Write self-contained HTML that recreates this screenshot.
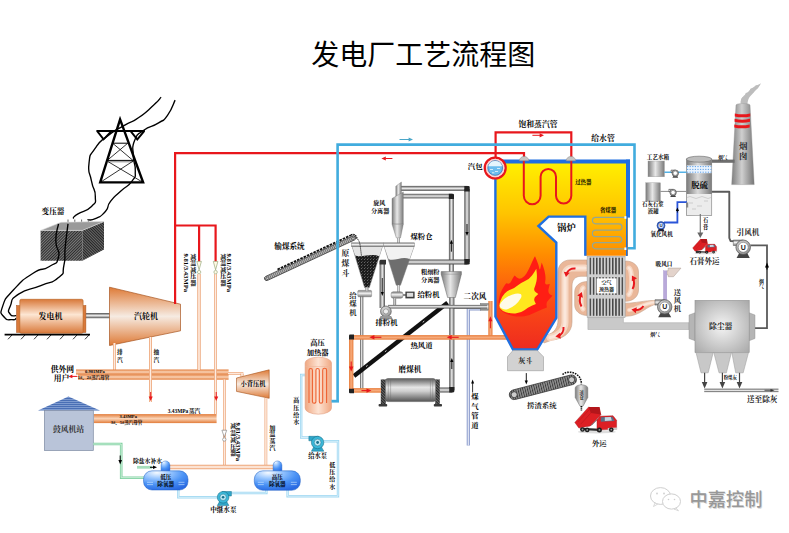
<!DOCTYPE html>
<html lang="zh"><head><meta charset="utf-8"><title>发电厂工艺流程图</title>
<style>html,body{margin:0;padding:0;background:#fff}svg{display:block}text{font-family:"Liberation Serif","Noto Serif CJK SC",serif;font-weight:bold}text.ttl{font-family:"Liberation Sans","Noto Sans CJK SC",sans-serif;font-weight:normal}text.wm{font-family:"Liberation Sans","Noto Sans CJK SC",sans-serif;font-weight:500}</style></head>
<body>
<svg width="789" height="533" viewBox="0 0 789 533">
<defs>
<linearGradient id="gOrH" x1="0" y1="0" x2="0" y2="1"><stop offset="0" stop-color="#e27c3a"/><stop offset="0.5" stop-color="#fad3b6"/><stop offset="1" stop-color="#e27c3a"/></linearGradient>
<linearGradient id="gOrV" x1="0" y1="0" x2="1" y2="0"><stop offset="0" stop-color="#e27c3a"/><stop offset="0.5" stop-color="#fad3b6"/><stop offset="1" stop-color="#e27c3a"/></linearGradient>
<linearGradient id="gOtH" x1="0" y1="0" x2="0" y2="1"><stop offset="0" stop-color="#e68d55"/><stop offset="0.3" stop-color="#fbdcc8"/><stop offset="0.5" stop-color="#fdece2"/><stop offset="0.7" stop-color="#fbdcc8"/><stop offset="1" stop-color="#e68d55"/></linearGradient>
<linearGradient id="gOtV" x1="0" y1="0" x2="1" y2="0"><stop offset="0" stop-color="#e68d55"/><stop offset="0.3" stop-color="#fbdcc8"/><stop offset="0.5" stop-color="#fdece2"/><stop offset="0.7" stop-color="#fbdcc8"/><stop offset="1" stop-color="#e68d55"/></linearGradient>
<linearGradient id="gHdH" x1="0" y1="0" x2="0" y2="1"><stop offset="0" stop-color="#e87c3a"/><stop offset="0.5" stop-color="#f6ab7c"/><stop offset="1" stop-color="#e87c3a"/></linearGradient>
<linearGradient id="gHdV" x1="0" y1="0" x2="1" y2="0"><stop offset="0" stop-color="#e87c3a"/><stop offset="0.5" stop-color="#f6ab7c"/><stop offset="1" stop-color="#e87c3a"/></linearGradient>
<linearGradient id="gGrH" x1="0" y1="0" x2="0" y2="1"><stop offset="0" stop-color="#4e4e4e"/><stop offset=".5" stop-color="#ececec"/><stop offset="1" stop-color="#4e4e4e"/></linearGradient>
<linearGradient id="gGrV" x1="0" y1="0" x2="1" y2="0"><stop offset="0" stop-color="#4e4e4e"/><stop offset=".5" stop-color="#ececec"/><stop offset="1" stop-color="#4e4e4e"/></linearGradient>
<linearGradient id="gTurb" x1="0" y1="0" x2="0" y2="1"><stop offset="0" stop-color="#de7a36"/><stop offset=".5" stop-color="#f6ebe2"/><stop offset="1" stop-color="#de7a36"/></linearGradient>
<linearGradient id="gGen" x1="0" y1="0" x2="0" y2="1"><stop offset="0" stop-color="#d9793a"/><stop offset=".45" stop-color="#fde6d3"/><stop offset="1" stop-color="#d9793a"/></linearGradient>
<linearGradient id="gBoil" x1="0" y1="160" x2="0" y2="350" gradientUnits="userSpaceOnUse"><stop offset="0" stop-color="#fff200"/><stop offset=".28" stop-color="#ffc400"/><stop offset=".5" stop-color="#ff8c00"/><stop offset=".75" stop-color="#fb4c14"/><stop offset="1" stop-color="#ee2a20"/></linearGradient>
<radialGradient id="gTank" cx=".3" cy=".1" r=".95"><stop offset="0" stop-color="#f4f9ff"/><stop offset=".3" stop-color="#9cc8ff"/><stop offset=".65" stop-color="#4a92f5"/><stop offset="1" stop-color="#2a6ae2"/></radialGradient>
<linearGradient id="gHeat" x1="0" y1="0" x2="1" y2="0"><stop offset="0" stop-color="#f0a882"/><stop offset=".5" stop-color="#fde3d3"/><stop offset="1" stop-color="#f0a882"/></linearGradient>
<linearGradient id="gCylV" x1="0" y1="0" x2="1" y2="0"><stop offset="0" stop-color="#7a7a7a"/><stop offset=".45" stop-color="#e8e8e8"/><stop offset="1" stop-color="#7a7a7a"/></linearGradient>
<linearGradient id="gCylH" x1="0" y1="0" x2="0" y2="1"><stop offset="0" stop-color="#777"/><stop offset=".45" stop-color="#f2f2f2"/><stop offset="1" stop-color="#777"/></linearGradient>
<linearGradient id="gDuct" x1="0" y1="0" x2="1" y2="0"><stop offset="0" stop-color="#f6b79a"/><stop offset=".5" stop-color="#fde9de"/><stop offset="1" stop-color="#f6b79a"/></linearGradient>
<radialGradient id="gDust" cx=".5" cy=".5" r=".7"><stop offset="0" stop-color="#f4f4f4"/><stop offset="1" stop-color="#a8a8a8"/></radialGradient>
<linearGradient id="gChim" x1="0" y1="0" x2="1" y2="0"><stop offset="0" stop-color="#7e7e7e"/><stop offset=".45" stop-color="#cfcfcf"/><stop offset="1" stop-color="#767676"/></linearGradient>
<radialGradient id="gFan" cx=".45" cy=".4" r=".6"><stop offset="0" stop-color="#fff"/><stop offset="1" stop-color="#8a8a8a"/></radialGradient>
<pattern id="pHatch" width="2" height="2" patternUnits="userSpaceOnUse" patternTransform="rotate(45)"><rect width="2" height="2" fill="#7c7c7c"/><rect width="1" height="2" fill="#2c2c2c"/></pattern>
<pattern id="pHatch2" width="2" height="2" patternUnits="userSpaceOnUse" patternTransform="rotate(-45)"><rect width="2" height="2" fill="#6a6a6a"/><rect width="1" height="2" fill="#242424"/></pattern>
<pattern id="pRoof" width="2" height="2" patternUnits="userSpaceOnUse"><rect width="2" height="2" fill="#7e9bd0"/><rect width="2" height="1" fill="#4a6fb5"/></pattern>
<pattern id="pBars" width="3.2" height="4" patternUnits="userSpaceOnUse"><rect width="3.2" height="4" fill="#d0d0d0"/><rect x=".8" width="1.5" height="4" fill="#444"/></pattern>
<pattern id="pBelt" width="2.4" height="4" patternUnits="userSpaceOnUse"><rect width="2.4" height="4" fill="#555"/><rect width="1.1" height="4" fill="#222"/></pattern>
<pattern id="pCoal" width="3" height="3" patternUnits="userSpaceOnUse"><rect width="3" height="3" fill="#1c1c1c"/><rect x="1" y="1" width="1" height="1" fill="#666"/><rect x="2.2" y="0" width=".8" height=".8" fill="#555"/></pattern>
<pattern id="pBeltL" width="1.9" height="4" patternUnits="userSpaceOnUse"><rect width="1.9" height="4" fill="#bdbdbd"/><rect width=".7" height="4" fill="#555"/></pattern>
<pattern id="pBeltM" width="2.3" height="4" patternUnits="userSpaceOnUse"><rect width="2.3" height="4" fill="#909090"/><rect width=".9" height="4" fill="#3a3a3a"/></pattern>
<linearGradient id="gTow" x1="0" y1="0" x2="1" y2="0"><stop offset="0" stop-color="#7a7a7a"/><stop offset=".45" stop-color="#dadada"/><stop offset="1" stop-color="#7a7a7a"/></linearGradient>
<linearGradient id="gMill" x1="0" y1="0" x2="0" y2="1"><stop offset="0" stop-color="#5c5c5c"/><stop offset=".38" stop-color="#e6e6e6"/><stop offset=".55" stop-color="#cfcfcf"/><stop offset="1" stop-color="#545454"/></linearGradient>
<filter id="fBlur" x="-20%" y="-20%" width="140%" height="140%"><feGaussianBlur stdDeviation=".7"/></filter>
</defs>
<rect width="789" height="533" fill="#fff"/>
<text class="ttl" x="311.3" y="64.8" font-size="28" fill="#000">发电厂工艺流程图</text>
<g fill="none" stroke="#000" stroke-linejoin="miter">
<path d="M120.1 119.4 L100.2 182.4 H143.1 Z" stroke-width="2.4"/>
<path d="M96.4 131 H144.9" stroke-width="2.2"/>
<path d="M97.4 131.4 L103.6 139.4 L111.2 131.4 M130.8 131.4 L137.3 139.4 L144 131.4" stroke-width="1.9"/>
<path d="M112.6 143.2H127.8 M107 160.4H133.2" stroke-width="1"/><path d="M107 161.8H133.2" stroke="#777" stroke-width="0.9"/>
<path d="M112.6 143.2L133.2 160.6 M127.8 143.2L107 160.6 M107 161L143 182.4 M133.2 161L100.2 182.4" stroke-width="0.8"/>
<path d="M161.1 97.1C158.6 99.8 161.1 98.3 153.5 105.2C145.9 112.1 148.1 111.1 138.4 117.8C128.7 124.5 134.5 119.5 124.4 125.4C114.3 131.3 117.7 128 108 135.6C98.3 143.2 101.6 138.9 95.3 148.2C89 157.5 90.3 152.4 89 163.4C87.7 174.4 89.4 170.1 91.5 181.1C93.6 192.1 95.3 187.8 95.3 196.3C95.3 204.8 97.4 200.6 91.5 206.5C85.6 212.4 83.8 210.1 77.6 214.1C71.4 218.1 74.5 217 73 218.5" stroke-width="1.35"/>
<path d="M175.1 100.1C172.6 105.2 173 107.7 167.5 115.3C162 122.9 166.6 117.8 158.6 122.9C150.6 128 151.4 124.6 143.4 130.5C135.4 136.4 138 132.2 134.6 140.6C131.2 149 133.1 145.7 133.3 155.8C133.5 165.9 135.7 162.6 135.3 171C134.9 179.4 136.9 174.3 132 181.1C127.1 187.9 127.8 184.5 120.6 191.3C113.4 198.1 115.6 194.7 110.5 201.4C105.4 208.1 110.5 205.8 105.4 211.5C100.3 217.2 101.3 215.9 95.3 218.6C89.3 221.3 90.1 219.3 87.5 219.6" stroke-width="1.35"/>
</g>
<text x="41.6" y="213.5" font-size="7.6" fill="#000">变压器</text>
<path d="M68 219.5v2.5M74.8 219.5v2.5M81.6 219.5v2.5M88.4 219.5v2.5" stroke="#666" stroke-width="1"/>
<path d="M40.6 230.4H82.4V260.8H40.6Z" fill="url(#pHatch)"/>
<path d="M82.4 230.4L104 221.5V249.4L82.4 260.8Z" fill="url(#pHatch2)"/>
<path d="M40.6 230.4L61 222.3L104 221.5L82.4 230.4Z" fill="#9a9a9a" stroke="#ddd" stroke-width="0.6"/>
<g fill="none" stroke="#000" stroke-width="1.35">
<path d="M58.5 223.9C57.6 229.5 55.8 229.7 55.8 240.8C55.8 251.9 60.8 248.5 58.5 257.1C56.2 265.7 57.6 261.2 49 266.7C40.4 272.2 44.5 265.8 32.7 273.5C20.9 281.2 23.6 278.9 13.6 289.8C3.6 300.7 5.9 297 2.7 306.1C-0.5 315.2 0.9 312.5 4.1 317C7.3 321.5 8.1 319.2 12.2 319.7C16.3 320.2 14.9 318.8 16.3 318.4"/>
<path d="M68 223.9C67.1 231.4 66.7 232.5 65.3 246.3C63.9 260.1 66.2 254.9 63.9 265.3C61.6 275.7 66.2 270.8 58.5 277.6C50.8 284.4 54 280.3 40.8 285.7C27.6 291.1 29.2 287.1 19 293.9C8.8 300.7 13.2 299.3 10.3 306.1C7.4 312.9 8.3 311.1 10.3 314.3C12.3 317.5 14.3 315.2 16.3 315.6"/>
</g>
<rect x="85.5" y="313" width="24.5" height="5.2" fill="url(#gGrH)"/>
<rect x="16.5" y="305.5" width="4" height="27" fill="#d9793a" stroke="#a8551f" stroke-width=".5"/>
<rect x="82.5" y="305.5" width="3.4" height="27" fill="#d9793a" stroke="#a8551f" stroke-width=".5"/>
<rect x="19.8" y="299.3" width="63.3" height="34" rx="1.5" fill="url(#gGen)" stroke="#b5601f" stroke-width=".6"/>
<path d="M4.6 334.6H90" stroke="#000" stroke-width="1.6"/>
<path d="M12 335L8 339.3M25 335L21 339.3M38 335L34 339.3M51 335L47 339.3M64 335L60 339.3M77 335L73 339.3M89 335L85 339.3" stroke="#000" stroke-width=".8"/>
<text x="38.5" y="319" font-size="8" fill="#000">发电机</text>
<path d="M109.5 287.2L180.5 304.2V330.8L109.5 345.5Z" fill="url(#gTurb)" stroke="#a8551f" stroke-width=".7"/>
<text x="134" y="319" font-size="8" fill="#000">汽轮机</text>
<path d="M524 158 L524 153.2 L175.1 153.2 L175.1 304" fill="none" stroke="#e8171c" stroke-width="2.2" stroke-linejoin="miter"/>
<path d="M175 225.5 L215.6 225.5 L215.6 261.5" fill="none" stroke="#e8171c" stroke-width="2.2" />
<path d="M199.1 225.5 L199.1 261.5" fill="none" stroke="#e8171c" stroke-width="2.2" />
<g transform="translate(381.4,158.5) rotate(180)"><path d="M-11 0H-3.9000000000000004" stroke="#e8171c" stroke-width="1" fill="none"/><path d="M0 0L-4.4 -2.1L-4.4 2.1Z" fill="#e8171c"/></g>
<path d="M495.6 160 L495.6 132.4 L571.3 132.4 L571.3 158" fill="none" stroke="#e8171c" stroke-width="2.2" />
<g transform="translate(544,135.3) rotate(0)"><path d="M-11.6 0H-3.9000000000000004" stroke="#e8171c" stroke-width="1" fill="none"/><path d="M0 0L-4.4 -2.1L-4.4 2.1Z" fill="#e8171c"/></g>
<g transform="translate(413,139.5) rotate(0)"><path d="M-13.5 0H-3.9000000000000004" stroke="#4aa6c8" stroke-width="1" fill="none"/><path d="M0 0L-4.4 -2.1L-4.4 2.1Z" fill="#4aa6c8"/></g>
<rect x="113" y="343" width="2.9" height="27" fill="url(#gOtV)"/>
<rect x="149.1" y="337" width="2.8" height="65" fill="url(#gOtV)"/>
<rect x="76" y="369.5" width="152.6" height="5" fill="url(#gOrH)"/>
<rect x="78" y="374.3" width="150.6" height="5.4" fill="url(#gOrH)"/>
<rect x="228" y="372.1" width="15.4" height="2.6" fill="url(#gOtH)"/>
<rect x="240.6" y="373.4" width="2.8" height="4.6" fill="url(#gOtV)"/>
<rect x="197.4" y="274" width="3.2" height="96" fill="url(#gOtV)"/>
<rect x="214.1" y="274" width="2.8" height="140" fill="url(#gOtV)"/>
<rect x="149.1" y="337" width="2.8" height="65" fill="url(#gOtV)"/>
<rect x="93.8" y="414.1" width="122.8" height="9" fill="url(#gOrH)"/>
<path d="M236.5 378L269.2 369.8V398.3L236.5 391.4Z" fill="url(#gTurb)" stroke="#a8551f" stroke-width=".6"/>
<text x="240.4" y="385.9" font-size="6.3" fill="#000">小背压机</text>
<rect x="223.1" y="379.5" width="2.6" height="89" fill="url(#gOtV)"/>
<rect x="264.6" y="398" width="2.6" height="70.5" fill="url(#gOtV)"/>
<rect x="169" y="464.8" width="104.5" height="4.4" fill="url(#gOtH)"/>
<path d="M196.8 261.4H201.4L199.1 269.8Z" fill="#fffbe6" stroke="#8a9a6a" stroke-width=".6"/><circle cx="199.1" cy="272.1" r="1.7" fill="#fffbe6" stroke="#8a9a6a" stroke-width=".6"/>
<path d="M213.3 261.4H217.9L215.6 269.8Z" fill="#fffbe6" stroke="#8a9a6a" stroke-width=".6"/><circle cx="215.6" cy="272.1" r="1.7" fill="#fffbe6" stroke="#8a9a6a" stroke-width=".6"/>
<path d="M221.9 430.2H226.7L224.3 437.2Z" fill="#fff" stroke="#777" stroke-width=".6"/><circle cx="224.3" cy="439.5" r="1.7" fill="#fff" stroke="#777" stroke-width=".6"/>
<g transform="translate(150.7,401) rotate(90)"><path d="M-9 0H-4.0" stroke="#e8171c" stroke-width="1" fill="none"/><path d="M0 0L-4.5 -2L-4.5 2Z" fill="#e8171c"/></g>
<g transform="translate(216.2,401) rotate(90)"><path d="M-9 0H-4.0" stroke="#e8171c" stroke-width="1" fill="none"/><path d="M0 0L-4.5 -2L-4.5 2Z" fill="#e8171c"/></g>
<g transform="translate(68.4,376.4) rotate(180)"><path d="M-9 0H-3.5" stroke="#e8171c" stroke-width="1" fill="none"/><path d="M0 0L-4 -1.8L-4 1.8Z" fill="#e8171c"/></g>
<text font-size="5.7" fill="#000"><tspan x="117" y="354.4">排</tspan><tspan x="117" y="361.5">汽</tspan></text>
<text font-size="5.7" fill="#000"><tspan x="153.6" y="354.4">抽</tspan><tspan x="153.6" y="361.5">汽</tspan></text>
<text x="50.7" y="372" font-size="7.8" fill="#000">供外网</text>
<text x="53.8" y="381.2" font-size="7.8" fill="#000">用户</text>
<text x="85" y="373" font-size="4.6">0.981MPa</text>
<text x="77.8" y="379.3" font-size="4.5" fill="#000">1#、2#蒸汽母管</text>
<text x="119.5" y="417.6" font-size="4.6">3.43MPa</text>
<text x="110.8" y="423.5" font-size="4.5" fill="#000">3#、5#蒸汽母管</text>
<text x="167.8" y="412.6" font-size="5.4">3.43MPa</text>
<text x="188.8" y="412.8" font-size="5.8" fill="#000">蒸汽</text>
<text font-size="6" fill="#000"><tspan x="190.3" y="258.6">减</tspan><tspan x="190.3" y="265.2">温</tspan><tspan x="190.3" y="271.8">减</tspan><tspan x="190.3" y="278.4">压</tspan><tspan x="190.3" y="285">器</tspan></text>
<text font-size="6" fill="#000"><tspan x="220.2" y="258.6">减</tspan><tspan x="220.2" y="265.2">温</tspan><tspan x="220.2" y="271.8">减</tspan><tspan x="220.2" y="278.4">压</tspan><tspan x="220.2" y="285">器</tspan></text>
<text transform="translate(184,253.5) rotate(90)" font-size="6.6">9.81/3.43MPa</text>
<text transform="translate(227,253.5) rotate(90)" font-size="6.6">9.81/3.43MPa</text>
<text font-size="5.8" fill="#000"><tspan x="230.3" y="428.1">减</tspan><tspan x="230.3" y="434.9">温</tspan><tspan x="230.3" y="441.7">减</tspan><tspan x="230.3" y="448.5">压</tspan><tspan x="230.3" y="455.3">器</tspan></text>
<text transform="translate(236,422.5) rotate(90)" font-size="6.6">9.81/3.43MPa</text>
<text font-size="6.2" fill="#000"><tspan x="269.2" y="429.5">加</tspan><tspan x="269.2" y="436.3">温</tspan><tspan x="269.2" y="443.1">蒸</tspan><tspan x="269.2" y="449.9">汽</tspan></text>
<path d="M68.4 396.5L38 410.4H100Z" fill="url(#pRoof)"/>
<rect x="44.4" y="410.4" width="48.9" height="40.1" fill="#b9c4d9" stroke="#7d8aa3" stroke-width=".7"/>
<text x="52.9" y="431.5" font-size="7.8" fill="#333">鼓风机站</text>
<path d="M93.3 444 L121.2 444 L121.2 477.7 L144.5 477.7" fill="none" stroke="#7fd0a0" stroke-width="2.6" />
<path d="M93.3 444 L121.2 444 L121.2 477.7 L144.5 477.7" fill="none" stroke="#d5f3e0" stroke-width="0.9" />
<g transform="translate(120.2,464.5) rotate(90)"><path d="M-9 0H-4.0" stroke="#000" stroke-width="1" fill="none"/><path d="M0 0L-4.5 -1.8L-4.5 1.8Z" fill="#000"/></g>
<path d="M137 467.3 L152 467.3" fill="none" stroke="#a6dfbd" stroke-width="2.8" />
<g transform="translate(157,467.3) rotate(0)"><path d="M-7 0H-3.5" stroke="#000" stroke-width="1" fill="none"/><path d="M0 0L-4 -1.8L-4 1.8Z" fill="#000"/></g>
<text x="133" y="462.5" font-size="5.8" fill="#000">除盐水补水</text>
<path d="M178.3 490 L178.3 497.3 L217 497.3" fill="none" stroke="#9fd8f2" stroke-width="2.4" />
<path d="M178.3 490 L178.3 497.3 L217 497.3" fill="none" stroke="#e4f5fc" stroke-width="0.8" />
<path d="M229 493 L266.4 493 L266.4 489" fill="none" stroke="#9fd8f2" stroke-width="2.4" />
<path d="M229 493 L266.4 493 L266.4 489" fill="none" stroke="#e4f5fc" stroke-width="0.8" />
<path d="M287.6 490 L287.6 496.2 L338 496.2 L338 441.3 L324 441.3" fill="none" stroke="#9fd8f2" stroke-width="2.4" />
<path d="M287.6 490 L287.6 496.2 L338 496.2 L338 441.3 L324 441.3" fill="none" stroke="#e4f5fc" stroke-width="0.8" />
<path d="M311 437.5 L301.2 437.5 L301.2 375 L306 375" fill="none" stroke="#9fd8f2" stroke-width="2.4" />
<path d="M311 437.5 L301.2 437.5 L301.2 375 L306 375" fill="none" stroke="#e4f5fc" stroke-width="0.8" />
<path d="M161.1 471.8V465.3a4.4 4.4 0 0 1 8.8 0V471.8Z" fill="url(#gTank)" stroke="#1f5fc0" stroke-width=".4"/>
<rect x="143.5" y="470.8" width="44.5" height="19.2" rx="8.5" fill="url(#gTank)" stroke="#1f5fc0" stroke-width=".5"/>
<path d="M147 482.3h6M147 484.6h6" stroke="#cfe6ff" stroke-width=".6"/>
<path d="M178.5 482.3h6M178.5 484.6h6" stroke="#cfe6ff" stroke-width=".6"/>
<text x="160.2" y="478.9" font-size="5.6" fill="#000">低压</text>
<text x="157.3" y="486.4" font-size="5.6" fill="#000">除氧器</text>
<path d="M273.1 471.8V465.3a4.4 4.4 0 0 1 8.8 0V471.8Z" fill="url(#gTank)" stroke="#1f5fc0" stroke-width=".4"/>
<rect x="254.3" y="470.8" width="46" height="19.5" rx="8.5" fill="url(#gTank)" stroke="#1f5fc0" stroke-width=".5"/>
<path d="M257.8 482.3h6M257.8 484.6h6" stroke="#cfe6ff" stroke-width=".6"/>
<path d="M290.8 482.3h6M290.8 484.6h6" stroke="#cfe6ff" stroke-width=".6"/>
<text x="271.7" y="478.9" font-size="5.6" fill="#000">高压</text>
<text x="268.9" y="486.4" font-size="5.6" fill="#000">除氧器</text>
<g transform="translate(223.1,497.3) scale(1,1)"><path d="M-1 -5.8H8.3V-1.2999999999999998H2Z" fill="#2fa6c9" stroke="#17708c" stroke-width=".5"/><path d="M-5.8 8.3L-3.3 3.8H3.3L5.8 8.3Z" fill="#2fa6c9" stroke="#17708c" stroke-width=".5"/><circle r="5.8" fill="#3bb7d8" stroke="#17708c" stroke-width=".6"/><circle r="3.2" fill="#bfe9f5" stroke="#17708c" stroke-width=".5"/><circle r="1.3" fill="#17708c"/></g>
<g transform="translate(317.6,442.5) scale(-1,1)"><path d="M-1 -6.2H8.7V-1.7000000000000002H2Z" fill="#2fa6c9" stroke="#17708c" stroke-width=".5"/><path d="M-6.2 8.7L-3.7 4.2H3.7L6.2 8.7Z" fill="#2fa6c9" stroke="#17708c" stroke-width=".5"/><circle r="6.2" fill="#3bb7d8" stroke="#17708c" stroke-width=".6"/><circle r="3.4" fill="#bfe9f5" stroke="#17708c" stroke-width=".5"/><circle r="1.4" fill="#17708c"/></g>
<text x="210.2" y="512" font-size="6.6" fill="#000">中继水泵</text>
<text x="308.2" y="457.7" font-size="6.3" fill="#000">给水泵</text>
<text font-size="6" fill="#000"><tspan x="293.3" y="402.3">高</tspan><tspan x="293.3" y="409.6">压</tspan><tspan x="293.3" y="416.9">给</tspan><tspan x="293.3" y="424.2">水</tspan></text>
<text font-size="6" fill="#000"><tspan x="329.3" y="466.8">低</tspan><tspan x="329.3" y="474.1">压</tspan><tspan x="329.3" y="481.4">给</tspan><tspan x="329.3" y="488.7">水</tspan></text>
<path d="M305.1 363 a13.2 5.8 0 0 1 26.4 0 V408 a13.2 6.2 0 0 1 -26.4 0Z" fill="url(#gHeat)" stroke="#e3a184" stroke-width=".6"/>
<path d="M305.4 366.5H331.2" stroke="#edb69c" stroke-width=".6"/>
<path d="M309 403V370.2a1.7 1.7 0 0 1 3.4 0V401.5a1.75 1.75 0 0 0 3.5 0V370.2a1.7 1.7 0 0 1 3.4 0V401.5a1.7 1.7 0 0 0 3.4 0V370.2a1.95 1.95 0 0 1 3.9 0V403" fill="none" stroke="#ee6232" stroke-width="1.1"/>
<path d="M331.5 401.2 L339 401.2" fill="none" stroke="#41acde" stroke-width="2.8" />
<text x="310.3" y="344.8" font-size="7.3" fill="#000">高压</text>
<text x="306.7" y="355.4" font-size="7.3" fill="#000">加热器</text>
<g transform="translate(266.6,278.4) rotate(-24.91)"><rect x="-2.2" y="-2.2" width="100.3" height="4.4" rx="2.2" fill="url(#pBeltL)" stroke="#222" stroke-width=".6"/></g>
<path d="M277.5 269.5L351 235.2" stroke="#111" stroke-width="1.8" stroke-dasharray="2.6 1"/><path d="M351 235C354 233.5 356 235 357 238.5" stroke="#111" stroke-width="1.5" stroke-dasharray="1.5 .8" fill="none"/><circle cx="267.2" cy="278.2" r="1.1" fill="#fff" stroke="#111" stroke-width=".5"/><circle cx="353" cy="238.3" r="1.1" fill="#fff" stroke="#111" stroke-width=".5"/>
<text x="274.3" y="249.4" font-size="7.6" fill="#000">输煤系统</text>
<path d="M337.6 400.7 L337.6 144.6 L634.5 144.6 L634.5 248.2 L626 248.2" fill="none" stroke="#41acde" stroke-width="2.6" />
<path d="M468.3 445.5 L468.3 308.8 L481 308.8" fill="none" stroke="#8c9ccc" stroke-width="3.2" />
<path d="M468.3 445.5 L468.3 308.8 L481 308.8" fill="none" stroke="#e4e9f7" stroke-width="1.2" />
<rect x="488.3" y="301" width="4.2" height="36" fill="url(#gHdV)"/>
<rect x="453.8" y="305" width="27.2" height="3.6" fill="url(#gGrH)"/>
<rect x="480.3" y="303.6" width="8.2" height="6.6" fill="url(#gCylH)" stroke="#666" stroke-width=".4"/>
<g transform="translate(490.4,316.3) rotate(-90)"><path d="M-12 0H-4.5" stroke="#e8171c" stroke-width="1" fill="none"/><path d="M0 0L-5 -2L-5 2Z" fill="#e8171c"/></g>
<text x="463.6" y="299.4" font-size="7.6" fill="#000">二次风</text>
<rect x="360" y="296" width="3.3" height="93" fill="url(#gGrV)"/>
<path d="M354 376L447.6 302.8" stroke="#111" stroke-width="4.3"/>
<path d="M366 366.6L440 308.8" stroke="#fff" stroke-width=".8" stroke-dasharray="2 22"/>
<rect x="449.2" y="297" width="5.2" height="93" fill="url(#gGrV)"/>
<rect x="448.9" y="196" width="5" height="76.5" fill="url(#gGrV)"/>
<rect x="439.6" y="387.5" width="12.4" height="5" fill="url(#gGrH)"/>
<path d="M449.2 392.5H453a1.4 1.4 0 0 0 1.4-1.4V387H449.2Z" fill="#222"/>
<g transform="translate(451.8,358) rotate(-90)"><path d="M-11 0H-3.5" stroke="#000" stroke-width="0.9" fill="none"/><path d="M0 0L-4 -1.6L-4 1.6Z" fill="#000"/></g>
<g transform="translate(451.4,239.7) rotate(-90)"><path d="M-12 0H-3.5" stroke="#000" stroke-width="0.9" fill="none"/><path d="M0 0L-4 -1.6L-4 1.6Z" fill="#000"/></g>
<rect x="403" y="193.8" width="49" height="4.6" fill="url(#gGrH)"/>
<path d="M448.8 193.8H452.8a1.2 1.2 0 0 1 1.2 1.2V199H448.8Z" fill="#222"/>
<rect x="401" y="185.9" width="66.5" height="5" fill="url(#gGrH)"/>
<rect x="464.3" y="189" width="5.4" height="73" fill="url(#gGrV)"/>
<rect x="407" y="259.5" width="60.5" height="5" fill="url(#gGrH)"/>
<path d="M464.3 185.9H468.5a1.2 1.2 0 0 1 1.2 1.2V191.6H464.3Z" fill="#222"/><path d="M464.3 264.5H468.5a1.2 1.2 0 0 0 1.2-1.2V259H464.3Z" fill="#222"/>
<g transform="translate(467,236) rotate(90)"><path d="M-12 0H-3.5" stroke="#000" stroke-width="0.9" fill="none"/><path d="M0 0L-4 -1.6L-4 1.6Z" fill="#000"/></g>
<path d="M395.8 186.2L401.4 182V224H395.8Z" fill="url(#gCylV)" stroke="#777" stroke-width=".4"/>
<path d="M392 198.5L403.3 191.9V224.2H392Z" fill="url(#gCylV)" stroke="#777" stroke-width=".4"/>
<path d="M392 224.2H403.3L400.5 237.9H396.3Z" fill="url(#gCylV)" stroke="#777" stroke-width=".4"/>
<rect x="397.2" y="237.9" width="2.6" height="5.6" fill="url(#gCylV)"/>
<text x="373.2" y="204.9" font-size="6.1" fill="#000">旋风</text>
<text x="371" y="212.5" font-size="6.1" fill="#000">分离器</text>
<path d="M352.2 246.5H382.4L369.3 287.6H364.6Z" fill="url(#pCoal)" stroke="#777" stroke-width=".5"/>
<path d="M352.2 246.5H382.4L379.4 256.5C372 252.5 362 258 355 255.5Z" fill="#e4e4e4"/>
<rect x="351.3" y="242.8" width="32.1" height="3.9" fill="url(#gCylH)" stroke="#777" stroke-width=".4"/>
<path d="M357.5 239C359.5 241 360 244 360.5 248L361.5 256" stroke="#222" stroke-width="1" stroke-dasharray="1.2 .8" fill="none"/>
<path d="M384.2 246.5H414L400.5 285.2H396.3Z" fill="#6e6e6e" stroke="#777" stroke-width=".5"/>
<path d="M384.2 246.5H414L409.6 259C402 255.5 394 262 388.5 259Z" fill="#f2f2f2"/>
<rect x="383.4" y="242.8" width="31.2" height="3.9" fill="url(#gCylH)" stroke="#777" stroke-width=".4"/>
<text x="410.4" y="239.3" font-size="7.4" fill="#000">煤粉仓</text>
<text font-size="7.8" fill="#222"><tspan x="341.4" y="255.5">原</tspan><tspan x="341.4" y="265.5">煤</tspan><tspan x="341.4" y="275.5">斗</tspan></text>
<text font-size="7.4" fill="#222"><tspan x="349.3" y="297.5">给</tspan><tspan x="349.3" y="306.1">煤</tspan><tspan x="349.3" y="314.7">机</tspan></text>
<rect x="357.8" y="290.4" width="13.8" height="6.4" rx="1" fill="url(#gCylH)" stroke="#666" stroke-width=".4"/>
<rect x="365.4" y="287.4" width="3" height="3.2" fill="url(#gCylV)"/>
<rect x="379.6" y="261" width="5.4" height="47" fill="url(#gGrV)"/>
<path d="M379.6 264.6V261a1.2 1.2 0 0 1 1.2-1.2H386V264.6Z" fill="#333"/>
<g transform="translate(382.3,296) rotate(90)"><path d="M-18 0H-3.5" stroke="#000" stroke-width="0.8" fill="none"/><path d="M0 0L-4 -1.5L-4 1.5Z" fill="#000"/></g>
<rect x="397.3" y="285" width="2.4" height="7" fill="url(#gCylV)"/>
<rect x="391.1" y="291.8" width="11.8" height="6.4" rx="2" fill="url(#gCylH)" stroke="#666" stroke-width=".4"/>
<rect x="402.9" y="294" width="3" height="2" fill="#888"/>
<rect x="405.4" y="291.6" width="9.2" height="6.8" fill="#3a3a3a"/><rect x="406.8" y="292.8" width="6.4" height="4" fill="#ddd"/>
<text x="417.4" y="296.9" font-size="7.4" fill="#000">给粉机</text>
<rect x="393.5" y="298.2" width="2.6" height="7.8" fill="url(#gGrV)"/>
<rect x="388" y="304.9" width="99" height="3.6" fill="url(#gGrH)"/>
<circle cx="385.9" cy="311.4" r="5.4" fill="url(#gFan)" stroke="#555" stroke-width=".6"/><circle cx="385.9" cy="311.4" r="2.6" fill="#eee" stroke="#555" stroke-width=".5"/><path d="M381 316L379.5 319H392.3L390.8 316" fill="#999" stroke="#555" stroke-width=".4"/>
<text x="375.4" y="324.8" font-size="7.4" fill="#000">排粉机</text>
<path d="M441.2 271.6H461.4V274.2L455.4 297.5H447.6L441.2 274.2Z" fill="url(#gCylV)" stroke="#666" stroke-width=".5"/>
<path d="M441.2 274.2H461.4" stroke="#888" stroke-width=".5"/>
<text x="421" y="274" font-size="6.2" fill="#000">粗细粉</text>
<text x="421" y="281.8" font-size="6.2" fill="#000">分离器</text>
<rect x="380.8" y="379.4" width="5" height="24.8" fill="url(#pHatch2)"/><rect x="435.2" y="379.4" width="4.6" height="24.8" fill="url(#pHatch2)"/>
<rect x="385.4" y="378.5" width="50.2" height="23.1" rx="2.5" fill="url(#gMill)" stroke="#555" stroke-width=".5"/>
<path d="M388.3 379V401M390.6 379V401M430.4 379V401M432.7 379V401" stroke="#666" stroke-width=".5" opacity=".7"/>
<rect x="378.6" y="404" width="8.6" height="2.6" rx=".8" fill="#3a3a3a"/><rect x="433.8" y="404" width="8.2" height="2.6" rx=".8" fill="#3a3a3a"/>
<rect x="351" y="335.1" width="158" height="4.6" fill="url(#gHdH)"/>
<rect x="349" y="339" width="4.4" height="52" fill="url(#gHdV)"/>
<rect x="352" y="388.1" width="29" height="4.6" fill="url(#gHdH)"/>
<path d="M349 339.5V335.5a1 1 0 0 1 1-1H354V339.5Z" fill="#222"/><path d="M349 388.8V392.3a1 1 0 0 0 1 1H354V388.8Z" fill="#222"/>
<g transform="translate(369.4,337.3) rotate(180)"><path d="M-12 0H-4.5" stroke="#e8171c" stroke-width="1.1" fill="none"/><path d="M0 0L-5 -2.2L-5 2.2Z" fill="#e8171c"/></g>
<g transform="translate(446.7,337.3) rotate(180)"><path d="M-12 0H-4.5" stroke="#e8171c" stroke-width="1.1" fill="none"/><path d="M0 0L-5 -2.2L-5 2.2Z" fill="#e8171c"/></g>
<g transform="translate(351.2,371.5) rotate(90)"><path d="M-10 0H-4.5" stroke="#e8171c" stroke-width="1.1" fill="none"/><path d="M0 0L-5 -2.2L-5 2.2Z" fill="#e8171c"/></g>
<g transform="translate(371.5,390.6) rotate(0)"><path d="M-10 0H-4.5" stroke="#e8171c" stroke-width="1.1" fill="none"/><path d="M0 0L-5 -2.2L-5 2.2Z" fill="#e8171c"/></g>
<text x="398.6" y="372.4" font-size="7.6" fill="#000">磨煤机</text>
<text x="410.4" y="348.3" font-size="7.4" fill="#000">热风道</text>
<g transform="translate(472.6,379.5) rotate(-90)"><path d="M-13 0H-3.5" stroke="#000" stroke-width="0.8" fill="none"/><path d="M0 0L-4 -1.5L-4 1.5Z" fill="#000"/></g>
<text font-size="7.4" fill="#000"><tspan x="471.3" y="399">煤</tspan><tspan x="471.3" y="408.6">气</tspan><tspan x="471.3" y="418.2">管</tspan><tspan x="471.3" y="427.8">道</tspan></text>
<path d="M587 260H570C563 260 558 265 558 272V320C558 328 554 333 547 335L541 338.8L544 343L552 340C563 339 572 333 572 322V286C572 280 575 276.3 581 276.3H587Z" fill="#eab799" stroke="#c49f88" stroke-width=".6"/>
<path d="M585 268H572C568 268 565 271 565 275V322C565 330 559 336 550 337.5" fill="none" stroke="#f6d6c2" stroke-width="7" stroke-linecap="round"/><path d="M585 268H572C568 268 565 271 565 275V322C565 330 559 336 550 337.5" fill="none" stroke="#fbe7db" stroke-width="3.1" stroke-linecap="round"/>
<path d="M587 281.6C580 281.6 574.7 286 574.7 292V305C574.7 311 580 315.4 587 315.4Z" fill="#eab799" stroke="#c49f88" stroke-width=".6"/>
<path d="M583 288C580.5 290 580.5 307 583 309" fill="none" stroke="#f6d6c2" stroke-width="5" stroke-linecap="round"/><path d="M583 288C580.5 290 580.5 307 583 309" fill="none" stroke="#fbe7db" stroke-width="2.2" stroke-linecap="round"/>
<path d="M625.5 261C633 261 638.5 265.5 638.5 272V290C638.5 296.5 633 301.3 625.5 301.3Z" fill="#eab799" stroke="#c49f88" stroke-width=".6"/>
<path d="M629 268C632.5 270 632.5 292 629 294.5" fill="none" stroke="#f6d6c2" stroke-width="5" stroke-linecap="round"/><path d="M629 268C632.5 270 632.5 292 629 294.5" fill="none" stroke="#fbe7db" stroke-width="2.2" stroke-linecap="round"/>
<path d="M625.5 303.2C636 303.2 643 300.4 657 300.4V304.3C647 305 641 316.3 625.5 316.3Z" fill="#eab799" stroke="#c49f88" stroke-width=".6"/>
<path d="M629 310C638 309 644 303 654 302.4" fill="none" stroke="#f6d6c2" stroke-width="4" stroke-linecap="round"/><path d="M629 310C638 309 644 303 654 302.4" fill="none" stroke="#fbe7db" stroke-width="1.8" stroke-linecap="round"/>
<path d="M495.4 161H628V255.8H585.3V216.6H548.6L538.4 226L556.3 242.5V318L537.2 349.5H513L495.4 316.5Z" fill="url(#gBoil)"/>
<path d="M495.4 161V316.5L513 349.5H537.2L556.3 318V242.5L538.4 226L548.6 216.6H585.3V255.8" fill="none" stroke="#1f6fe0" stroke-width="2.4" stroke-linejoin="miter"/>
<path d="M494.2 161.6H630" stroke="#1f6fe0" stroke-width="4"/><path d="M628 159.6V217.6" stroke="#1f6fe0" stroke-width="4"/><path d="M626.8 217V256" stroke="#1f6fe0" stroke-width="1.6"/>
<path d="M523.8 160V195.8a8.4 8.4 0 0 0 16.8 0V176.7a7.7 7.7 0 0 1 15.4 0V195.8a7.65 7.65 0 0 0 15.3 0V160" fill="none" stroke="#e8171c" stroke-width="2"/>
<path d="M519.4 160.8a4.7 4.4 0 0 1 9.4 0Z M566.2 160.8a4.7 4.4 0 0 1 9.4 0Z" fill="#c4c4c4" stroke="#8a8a8a" stroke-width=".5"/>
<path d="M625 217.4H595.6a3.20 3.20 0 0 0 0 6.4H618.8a3.20 3.20 0 0 1 0 6.4H595.6a3.20 3.20 0 0 0 0 6.4H618.8a3.00 3.00 0 0 1 0 6.0H595.6a3.10 3.10 0 0 0 0 6.2H625" fill="none" stroke="#93a794" stroke-width="1.2"/>
<rect x="624.4" y="216.2" width="2" height="2.6" fill="#fff"/><rect x="624.4" y="247.4" width="2" height="2.6" fill="#fff"/>
<text x="575.2" y="184.4" font-size="5.4" fill="#000">过热器</text>
<text x="599.9" y="211.5" font-size="5.4" fill="#000">省煤器</text>
<text x="557.1" y="231.4" font-size="9.4" fill="#000">锅炉</text>
<text x="467.8" y="169.3" font-size="7.4" fill="#000">汽包</text>
<text x="518.5" y="127" font-size="7.8" fill="#000">饱和蒸汽管</text>
<text x="591.3" y="140.5" font-size="7.8" fill="#000">给水管</text>
<circle cx="495.2" cy="168" r="10.4" fill="#f3b0b0" stroke="#e8171c" stroke-width="2.4"/><circle cx="495.2" cy="168" r="8.6" fill="none" stroke="#f7d5d5" stroke-width="1.4"/><circle cx="495.2" cy="168" r="7.3" fill="#6cbcee" stroke="#2a82c8" stroke-width=".8"/><path d="M488.2 166.2a7.3 7.3 0 0 1 14 0Z" fill="#e6f4fc"/><path d="M490 169.5h3M495 171.5h3M497 168.5h3M492 172.8h2.4" stroke="#fff" stroke-width=".7"/>
<path d="M499.5 308.1Q498.1 305.3 498.9 299.6Q499.6 294 501.9 290.1Q504.1 286.1 505.2 284.6L506.4 283.2L508.1 283.8Q509.8 284.3 511.5 280.7Q513.1 277.1 513.9 276.4L514.7 275.6L516.8 277.5Q518.8 279.4 521.6 278.2Q524.4 277.1 526.6 273.2Q528.9 269.3 531.1 264.2Q533.4 259.1 534.2 257.6L535 256.2L536.8 260.5Q538.6 264.8 539.2 268.1Q539.7 271.5 540.7 267.0L541.7 262.5L543.2 266.4Q544.6 270.4 545.2 274.4Q545.8 278.3 545.2 281.6Q544.6 285 547.2 284.4L549.8 283.9L548.7 288.4Q547.6 292.9 550.0 294.4L552.5 295.8L549.4 298.9Q546.2 301.9 546.5 304.7L546.9 307.5L543.0 308.9Q539 310.2 534.5 312.8Q530 315.4 524.4 316.2Q518.8 317 513.1 315.9Q507.5 314.7 504.1 312.8Q500.8 310.9 499.5 308.1Z" fill="#ff1e14"/>
<path d="M500.2 308.6Q498.5 306.4 500.2 301.4Q501.9 296.3 504.7 293.5Q507.5 290.6 510.9 289.5Q514.3 288.4 517.6 285.6Q521 282.8 525.0 281.1Q528.9 279.4 532.0 275.4Q535 271.5 535.6 270.1L536.3 268.8L536.8 273.6Q537.2 278.3 536.4 281.6Q535.6 285 534.5 287.8Q533.4 290.6 535.8 292.3L538.3 294L535.8 296.2Q533.4 298.5 534.6 301.3L535.9 304.1L531.8 305.8Q527.8 307.5 524.4 310.3Q521 313.1 515.4 313.4Q509.8 313.6 505.9 312.2Q501.9 310.9 500.2 308.6Z" fill="#ffe81e"/>
<path d="M501.3 308.3Q498.5 306.4 500.8 302.7Q503 299 507.5 296.8Q512 294.5 515.4 293.7Q518.8 292.9 520.6 294.1Q522.4 295.4 520.6 298.6Q518.8 301.9 515.4 304.7Q512 307.5 508.1 308.9Q504.1 310.2 501.3 308.3Z" fill="#fffbe8"/>
<path d="M513 350.4H537.2L543.5 356.8V370.7H507.5V356.8Z" fill="#d2d2d2" stroke="#9a9a9a" stroke-width=".6"/>
<text x="518.2" y="362.7" font-size="7" fill="#222">灰斗</text>
<g transform="translate(526.3,384.6) rotate(90)"><path d="M-11.5 0H-3.5" stroke="#000" stroke-width="0.9" fill="none"/><path d="M0 0L-4 -1.6L-4 1.6Z" fill="#000"/></g>
<g transform="translate(514.2,394.7) rotate(-14.55)"><rect x="-4.9" y="-4.9" width="69.1" height="9.8" rx="4.9" fill="url(#pBeltM)" stroke="#333" stroke-width=".7"/></g>
<circle cx="514.2" cy="394.7" r="3" fill="#ccc" stroke="#333" stroke-width=".8"/><circle cx="571.6" cy="379.8" r="3" fill="#ccc" stroke="#333" stroke-width=".8"/>
<path d="M562.5 374.5C566 371.5 572 371.5 576 374C580 376.5 581.5 380 581.3 384.5" fill="none" stroke="#111" stroke-width="1.6" stroke-dasharray="1.6 1"/>
<text x="527" y="407.8" font-size="7.4" fill="#222">捞渣系统</text>
<path d="M575.2 388a6.3 3.2 0 0 1 12.6 0V397.5L583 406.2H580L575.2 397.5Z" fill="url(#gCylV)" stroke="#777" stroke-width=".5"/>
<text font-size="4.2" fill="#000"><tspan x="579.4" y="394.2">渣</tspan><tspan x="579.4" y="399.4">仓</tspan></text>
<path d="M581.4 406V411" stroke="#111" stroke-width="1.6" stroke-dasharray="1.4 .8"/>
<g transform="translate(574.8,406.9) scale(1)"><ellipse cx="22" cy="25" rx="19" ry="1.6" fill="#ddd"/><path d="M5.7 20.8L25 21.8V24L5.7 23Z" fill="#2a2a2a"/><path d="M0 15.5L13.9 0L26.3 7.7L15.5 19.1L4.1 21.2Z" fill="#dd1f24" stroke="#9a1216" stroke-width=".4"/><path d="M13.9 0H24.8L26.3 7.7L16 6.2Z" fill="#b3161b"/><path d="M3 15.2L14.6 2.6M6 17.2L17.4 4.6" stroke="#b3161b" stroke-width=".5"/><path d="M16.5 18.5L23 12" stroke="#444" stroke-width=".8"/><path d="M24.8 9.3L38.2 8.8L41.8 13.4V22.2L22.2 23.2V13.4Z" fill="#dd1f24" stroke="#9a1216" stroke-width=".4"/><path d="M26 10.4L37.6 9.9L39.8 14.2L26 14.9Z" fill="#5a6f86"/><path d="M30 10.3L36 10L37 13.6L30 14Z" fill="#c9d6e2"/><path d="M33 21.2L42.3 20.6V22.8L33 23.6Z" fill="#ccc"/><circle cx="7.7" cy="22.6" r="2.3" fill="#1c1c1c"/><circle cx="12.4" cy="23" r="2.3" fill="#1c1c1c"/><circle cx="24.6" cy="23" r="2.5" fill="#1c1c1c"/><circle cx="36.5" cy="22.8" r="2.3" fill="#1c1c1c"/><circle cx="7.7" cy="22.6" r=".9" fill="#999"/><circle cx="12.4" cy="23" r=".9" fill="#999"/><circle cx="24.6" cy="23" r=".9" fill="#999"/><circle cx="36.5" cy="22.8" r=".9" fill="#999"/></g>
<text x="591.9" y="445.8" font-size="7.4" fill="#222">外运</text>
<rect x="587.1" y="256.2" width="38" height="61.4" fill="#cfcfcf" stroke="#999" stroke-width=".5"/>
<rect x="589" y="257.7" width="34.4" height="16.6" fill="url(#pBars)"/>
<rect x="589" y="277.2" width="34.4" height="17.6" fill="url(#pBars)"/>
<rect x="589" y="298.6" width="34.4" height="17.2" fill="url(#pBars)"/>
<rect x="596.6" y="278.4" width="20" height="15" fill="#fff"/>
<text x="601.6" y="283.9" font-size="5" fill="#000">空气</text>
<text x="599.1" y="291.1" font-size="5" fill="#000">预热器</text>
<path d="M587.9 317.6H623.4V322.7H689V329.5H587.9Z" fill="#c9c9c9" stroke="#a5a5a5" stroke-width=".5"/>
<text x="650.2" y="335.8" font-size="4.8" fill="#000">烟气</text>
<path d="M575.5 268.5C571 268 567.5 270.5 566.5 274" fill="none" stroke="#e8171c" stroke-width="2"/>
<path d="M0.6 0L-4.4 -3L-4.4 3Z" fill="#e8171c" transform="translate(566,276.5) rotate(100)"/>
<path d="M581.5 306.5C579.5 303 579.5 298 581 294.5" fill="none" stroke="#e8171c" stroke-width="2"/>
<path d="M0.6 0L-4.4 -3L-4.4 3Z" fill="#e8171c" transform="translate(581.6,292.5) rotate(-70)"/>
<path d="M632.5 289C634.5 286 634.5 281 633 278" fill="none" stroke="#e8171c" stroke-width="2"/>
<path d="M0.6 0L-4.4 -3L-4.4 3Z" fill="#e8171c" transform="translate(632.2,276) rotate(-120)"/>
<path d="M643.5 306C641.5 309 638 310.5 634 310" fill="none" stroke="#e8171c" stroke-width="2"/>
<path d="M0.6 0L-4.4 -3L-4.4 3Z" fill="#e8171c" transform="translate(632,309.5) rotate(190)"/>
<path d="M563.5 327C564 331.5 561.5 335 558 336" fill="none" stroke="#e8171c" stroke-width="2"/>
<path d="M0.6 0L-4.4 -3L-4.4 3Z" fill="#e8171c" transform="translate(556,336.5) rotate(170)"/>
<g filter="url(#fBlur)" fill="#bdbdbd"><path d="M740.5 103.5C740.5 98 743.5 96 746 94C749 91.5 750.5 88.5 754.5 86.5C757 85.2 759.5 84 761 83.2C759.5 86.5 757.5 88.5 755 91C752.5 94 749.5 96.5 748.5 99C747.8 101 747.6 102.5 747.5 104Z"/><circle cx="744" cy="99.5" r="2.6"/><circle cx="747.5" cy="95" r="2.4"/><circle cx="752" cy="90.5" r="2.2"/><circle cx="756.5" cy="87" r="1.8"/></g>
<path d="M736 105a7 1.5 0 0 1 14 0L754.2 184.6H731.7Z" fill="url(#gChim)" stroke="#8a8a8a" stroke-width=".4"/>
<path d="M734.8 113.4q7.6 1.8 15.4 0v3q-7.8 1.8 -15.4 0Z" fill="#e8171c"/>
<path d="M734.6 118.8q7.6 1.8 15.4 0v3q-7.8 1.8 -15.4 0Z" fill="#e8171c"/>
<path d="M734.3 124.4q7.6 1.8 15.4 0v3q-7.8 1.8 -15.4 0Z" fill="#e8171c"/>
<text font-size="8.4" fill="#222"><tspan x="739" y="149.4">烟</tspan><tspan x="739" y="159">囱</tspan></text>
<rect x="712" y="159.6" width="22.6" height="3.2" fill="#6e6e6e"/>
<text x="718.2" y="159" font-size="4.6" fill="#000">烟气</text>
<path d="M711.5 191.7 L729.3 191.7 L729.3 238 L730.5 241 L735 241.4" fill="none" stroke="#5a5a5a" stroke-width="1.9" stroke-linejoin="round"/>
<path d="M750.5 245.4 L767 245.4 L767 328.2 L755 328.2" fill="none" stroke="#5a5a5a" stroke-width="1.8" />
<g transform="translate(767,262.6) rotate(-90)"><path d="M-7 0H-4.5" stroke="#000" stroke-width="1.2" fill="none"/><path d="M0 0L-5 -2L-5 2Z" fill="#000"/></g>
<text font-size="4.8" fill="#000"><tspan x="758.9" y="282.8">烟</tspan><tspan x="758.9" y="288">气</tspan></text>
<rect x="686.4" y="159" width="25.4" height="56.3" fill="url(#gTow)" stroke="#777" stroke-width=".5"/>
<ellipse cx="699.1" cy="159.2" rx="12.7" ry="3" fill="#bdbdbd" stroke="#666" stroke-width=".6"/>
<rect x="686.8" y="165.4" width="24.6" height="7.8" fill="#eaf4ff"/>
<path d="M687 166.6H711.4M687 169.4H711.4M687 172.2H711.4" stroke="#3a8ae0" stroke-width=".8" stroke-dasharray="1.2 1.4"/>
<path d="M686.8 194H711.4V215H686.8Z" fill="#ececec"/><path d="M687 197.5q3-2 6 0t6 0t6 0t6 0M689 203h4M697 206h5M704 201h4M692 209h4" stroke="#bbb" stroke-width=".6" fill="none"/>
<text x="691.2" y="188.4" font-size="8.4" fill="#000">脱硫</text>
<rect x="648" y="161" width="16.4" height="15.8" fill="url(#gCylV)" stroke="#999" stroke-width=".4"/>
<rect x="645.8" y="182.8" width="14.6" height="18.2" fill="url(#gCylV)" stroke="#999" stroke-width=".4"/>
<text x="646.8" y="159.4" font-size="5.6" fill="#000">工艺水箱</text>
<text x="642" y="205.9" font-size="5.4" fill="#000">石灰石浆</text>
<text x="647.8" y="213.1" font-size="5.4" fill="#000">液罐</text>
<path d="M664.4 172.2 L686.4 172.2" fill="none" stroke="#2a9fe0" stroke-width="1.2" />
<path d="M660.4 191.4 L686.4 191.4" fill="none" stroke="#8a8a8a" stroke-width="1" />
<path d="M672.4 177.8L673.5 175.8H677.1L678.2 177.8Z" fill="#444"/>
<path d="M675.3 170H671V172.4H673.7Z" fill="url(#gCylH)" stroke="#555" stroke-width=".5"/>
<circle cx="675.3" cy="173.2" r="3.2" fill="url(#gFan)" stroke="#555" stroke-width=".7"/><circle cx="675.3" cy="173.2" r="2.2" fill="#fff" stroke="#555" stroke-width=".5"/>
<path d="M670.2 197.1L671.3 195.1H674.9L676 197.1Z" fill="#444"/>
<path d="M673.1 189.3H668.8V191.7H671.5Z" fill="url(#gCylH)" stroke="#555" stroke-width=".5"/>
<circle cx="673.1" cy="192.5" r="3.2" fill="url(#gFan)" stroke="#555" stroke-width=".7"/><circle cx="673.1" cy="192.5" r="2.2" fill="#fff" stroke="#555" stroke-width=".5"/>
<path d="M664 222.5 L677.4 222.5 L677.4 202.1 L687 202.1" fill="none" stroke="#2a55d8" stroke-width="1.8" />
<g transform="translate(677.4,207.5) rotate(-90)"><path d="M-5 0H-3.1" stroke="#000" stroke-width="0.8" fill="none"/><path d="M0 0L-3.6 -1.6L-3.6 1.6Z" fill="#000"/></g>
<rect x="686" y="202.5" width="2.2" height="5" fill="#888"/>
<circle cx="661" cy="225.6" r="4" fill="#3a63c8" stroke="#1f3f8a" stroke-width=".6"/><circle cx="661" cy="225.6" r="2.6" fill="#dfe8ff"/><path d="M657.5 231.3L658.6 229H663.4L664.5 231.3Z" fill="#223"/>
<text x="661" y="227.3" font-size="4.4" text-anchor="middle" style="font-family:'Liberation Sans',sans-serif" fill="#123">U</text>
<text x="650.4" y="236.4" font-size="5.6" fill="#000">氧化风机</text>
<path d="M700.3 213.9 L700.3 234" fill="none" stroke="#777" stroke-width="1.2" />
<path d="M697.3 232.5H703.3L700.3 238Z" fill="#666"/>
<text font-size="5.2" fill="#000"><tspan x="703" y="222.4">石</tspan><tspan x="703" y="228.8">膏</tspan></text>
<g transform="translate(692.6,239) scale(0.575)"><ellipse cx="22" cy="25" rx="19" ry="1.6" fill="#ddd"/><path d="M5.7 20.8L25 21.8V24L5.7 23Z" fill="#2a2a2a"/><path d="M0 15.5L13.9 0L26.3 7.7L15.5 19.1L4.1 21.2Z" fill="#dd1f24" stroke="#9a1216" stroke-width=".4"/><path d="M13.9 0H24.8L26.3 7.7L16 6.2Z" fill="#b3161b"/><path d="M3 15.2L14.6 2.6M6 17.2L17.4 4.6" stroke="#b3161b" stroke-width=".5"/><path d="M16.5 18.5L23 12" stroke="#444" stroke-width=".8"/><path d="M24.8 9.3L38.2 8.8L41.8 13.4V22.2L22.2 23.2V13.4Z" fill="#dd1f24" stroke="#9a1216" stroke-width=".4"/><path d="M26 10.4L37.6 9.9L39.8 14.2L26 14.9Z" fill="#5a6f86"/><path d="M30 10.3L36 10L37 13.6L30 14Z" fill="#c9d6e2"/><path d="M33 21.2L42.3 20.6V22.8L33 23.6Z" fill="#ccc"/><circle cx="7.7" cy="22.6" r="2.3" fill="#1c1c1c"/><circle cx="12.4" cy="23" r="2.3" fill="#1c1c1c"/><circle cx="24.6" cy="23" r="2.5" fill="#1c1c1c"/><circle cx="36.5" cy="22.8" r="2.3" fill="#1c1c1c"/><circle cx="7.7" cy="22.6" r=".9" fill="#999"/><circle cx="12.4" cy="23" r=".9" fill="#999"/><circle cx="24.6" cy="23" r=".9" fill="#999"/><circle cx="36.5" cy="22.8" r=".9" fill="#999"/></g>
<text x="689.6" y="264.1" font-size="7.5" fill="#222">石膏外运</text>
<text x="736.6" y="235.4" font-size="7.6" fill="#222">引风机</text>
<path d="M736.6 257.9L739.2 253.1H747.2L749.8 257.9Z" fill="#444"/>
<path d="M743.2 240H733.3V245.5H739.6Z" fill="url(#gCylH)" stroke="#555" stroke-width=".5"/>
<circle cx="743.2" cy="247.3" r="7.3" fill="url(#gFan)" stroke="#555" stroke-width=".7"/><circle cx="743.2" cy="247.3" r="5" fill="#fff" stroke="#555" stroke-width=".5"/>
<text x="743.2" y="249.8" font-size="7" text-anchor="middle" style="font-family:'Liberation Sans',sans-serif" fill="#222">U</text>
<text x="655.6" y="265.8" font-size="5.6" fill="#000">吸风口</text>
<path d="M666.9 270.8H668.2V268.1H681L673.5 276.7H668.2V274.8H666.9Z" fill="#e3d3cb" stroke="#a89a92" stroke-width=".5"/>
<rect x="663.4" y="270.8" width="3.4" height="30" fill="#b9a9da" stroke="#9d8cc4" stroke-width=".3"/>
<path d="M658.2 317.3L660.7 312.7H668.7L671.2 317.3Z" fill="#444"/>
<path d="M664.7 299.7H655V305.1H661.1Z" fill="url(#gCylH)" stroke="#555" stroke-width=".5"/>
<circle cx="664.7" cy="306.9" r="7.2" fill="url(#gFan)" stroke="#555" stroke-width=".7"/><circle cx="664.7" cy="306.9" r="4.9" fill="#fff" stroke="#555" stroke-width=".5"/>
<text x="664.7" y="309.4" font-size="7" text-anchor="middle" style="font-family:'Liberation Sans',sans-serif" fill="#222">U</text>
<text font-size="7.4" fill="#222"><tspan x="673.7" y="294.9">送</tspan><tspan x="673.7" y="302.7">风</tspan><tspan x="673.7" y="310.5">机</tspan></text>
<path d="M689 315L695 312.8V340.7L689 338.5Z M755 315L749.2 312.8V340.7L755 338.5Z" fill="#b5b5b5" stroke="#8a8a8a" stroke-width=".4"/>
<rect x="695" y="300.4" width="54.2" height="52.2" fill="url(#gDust)" stroke="#8f8f8f" stroke-width=".6"/>
<text x="708.9" y="329" font-size="7.8" fill="#222">除尘器</text>
<path d="M696 352.6H713.2L708.2 372.8H701Z" fill="#c8c8c8" stroke="#999" stroke-width=".5"/>
<path d="M713.8 352.6H731.4L726.4 372.8H719Z" fill="#c8c8c8" stroke="#999" stroke-width=".5"/>
<path d="M731.8 352.6H748.5L743.2 372.8H735.7Z" fill="#c8c8c8" stroke="#999" stroke-width=".5"/>
<path d="M704.6 372.8V383" stroke="#444" stroke-width="1.2"/><path d="M701.8000000000001 382H707.4L704.6 388.4Z" fill="#444"/>
<path d="M722.4 372.8V383" stroke="#444" stroke-width="1.2"/><path d="M719.6 382H725.1999999999999L722.4 388.4Z" fill="#444"/>
<path d="M739.5 372.8V383" stroke="#444" stroke-width="1.2"/><path d="M736.7 382H742.3L739.5 388.4Z" fill="#444"/>
<rect x="704.2" y="388.7" width="74.3" height="3.4" fill="url(#gGrH)"/>
<g transform="translate(774.5,390.3) rotate(0)"><path d="M-10 0H-3.5" stroke="#333" stroke-width="0.8" fill="none"/><path d="M0 0L-4 -1.4L-4 1.4Z" fill="#333"/></g>
<text x="723.7" y="379.3" font-size="4.4" fill="#000">粉煤灰</text>
<text x="747" y="401.5" font-size="7.6" fill="#222">送至除灰</text>
<text class="wm" x="690.4" y="506.7" font-size="18.2" fill="#d8d8d8">中嘉控制</text>
<text class="wm" x="689.6" y="505.9" font-size="18.2" fill="#989898">中嘉控制</text>
<g fill="#fff" stroke="#cfcfcf" stroke-width="1"><ellipse cx="660.5" cy="496" rx="10" ry="8.4"/><path d="M655 503L653.5 506.5L657.5 504.2Z" stroke-width=".8"/><ellipse cx="671.5" cy="501.5" rx="9" ry="7.6"/><path d="M676 508L678.5 510.8L674 509Z" stroke-width=".8"/></g>
<g fill="#cfcfcf"><circle cx="657" cy="493.5" r=".9"/><circle cx="664" cy="493.5" r=".9"/><circle cx="668.5" cy="499.5" r=".8"/><circle cx="674.5" cy="499.5" r=".8"/></g>
</svg>
</body></html>
